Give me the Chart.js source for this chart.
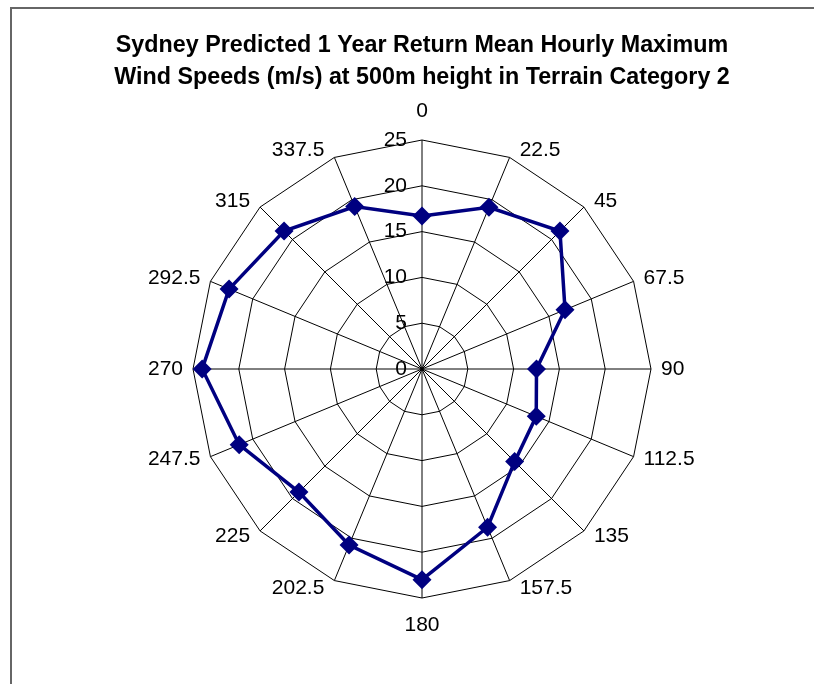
<!DOCTYPE html>
<html>
<head>
<meta charset="utf-8">
<script src="https://cdn.jsdelivr.net/npm/chart.js@4/dist/chart.umd.min.js"></script>
<style>
  html, body { margin: 0; padding: 0; background: #fff; overflow: hidden; }
  #Frame {
    position: absolute; left: 10px; top: 7px; width: 820px; height: 690px;
    border-left: 2px solid #666; border-top: 2px solid #666;
  }
  #ChartBox { position: absolute; left: 0; top: 0; width: 814px; height: 684px; }
</style>
</head>
<body>
<div id="Frame"></div>
<div id="ChartBox"><canvas id="WindChart"></canvas></div>
<script>
const Directions = ["0", "22.5", "45", "67.5", "90", "112.5", "135", "157.5",
  "180", "202.5", "225", "247.5", "270", "292.5", "315", "337.5"];
const WindSpeeds = [16.7, 19.1, 21.3, 16.9, 12.5, 13.5, 14.3, 18.7,
  23.0, 20.8, 19.0, 21.6, 24.0, 22.8, 21.3, 19.2];
const SpeedTicks = [0, 5, 10, 15, 20, 25];

const FontFamily = "'Liberation Sans', Arial, sans-serif";

// Excel style labels: ticks left of the vertical axis ("0" included),
// direction labels just outside each spoke end
const LabelPlugin = {
  id: "excelLabels",
  afterDraw(chart) {
    const Scale = chart.scales.r;
    const Ctx = chart.ctx;
    Ctx.save();
    Ctx.font = `21px ${FontFamily}`;
    Ctx.fillStyle = "#000";
    Ctx.textBaseline = "middle";

    Ctx.textAlign = "right";
    SpeedTicks.forEach((Value) => {
      const Y = Scale.yCenter - Scale.getDistanceFromCenterForValue(Value);
      Ctx.fillText(String(Value), Scale.xCenter - 15, Y);
    });

    Directions.forEach((Label, i) => {
      const P = Scale.getPointPosition(i, Scale.drawingArea);
      const Sin = (P.x - Scale.xCenter) / Scale.drawingArea;
      const Cos = (Scale.yCenter - P.y) / Scale.drawingArea;
      if (Math.abs(Sin) < 0.01) {
        Ctx.textAlign = "center";
        Ctx.fillText(Label, P.x, P.y + (Cos > 0 ? -29 : 27));
      } else {
        Ctx.textAlign = Sin > 0 ? "left" : "right";
        Ctx.fillText(Label, P.x + (Sin > 0 ? 10 : -10), P.y - 8 * Cos);
      }
    });
    Ctx.restore();
  },
};

const Canvas = document.getElementById("WindChart");
const NewChart = new Chart(Canvas, {
  type: "radar",
  data: {
    labels: Directions,
    datasets: [{
      data: WindSpeeds,
      borderColor: "#000080",
      backgroundColor: "#000080",
      borderWidth: 3.5,
      fill: false,
      tension: 0,
      pointStyle: "rectRot",
      pointRadius: 9.5,
      pointHoverRadius: 9.5,
      pointBackgroundColor: "#000080",
      pointBorderColor: "#000080",
      pointBorderWidth: 0,
    }],
  },
  options: {
    responsive: true,
    maintainAspectRatio: false,
    animation: false,
    layout: { padding: { left: 30, right: 0, top: 0, bottom: 86 } },
    plugins: {
      legend: { display: false },
      tooltip: { enabled: false },
      title: {
        display: true,
        text: ["Sydney Predicted 1 Year Return Mean Hourly Maximum",
          "Wind Speeds (m/s) at 500m height in Terrain Category 2"],
        color: "#000",
        font: { family: FontFamily, size: 23.3, weight: "bold", lineHeight: 32 / 23.3 },
        padding: { top: 30, bottom: 46 },
      },
    },
    scales: {
      r: {
        min: 0,
        max: 25,
        ticks: { stepSize: 5, display: false },
        grid: { color: "#000", lineWidth: 1 },
        angleLines: { color: "#000", lineWidth: 1 },
        pointLabels: { display: false },
      },
    },
  },
  plugins: [LabelPlugin],
});
</script>
</body>
</html>
